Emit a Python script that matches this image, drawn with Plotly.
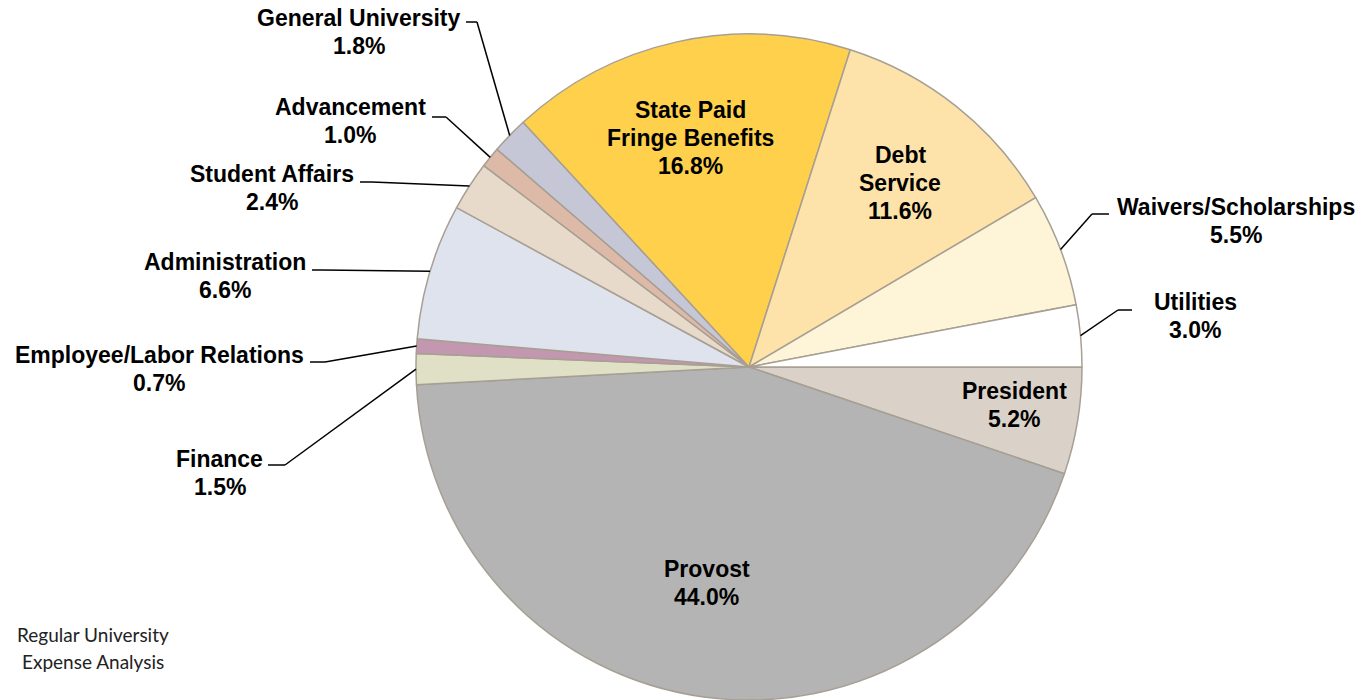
import math
import plotly.graph_objects as go

# Expense shares by unit, clockwise from 3 o'clock
categories = [
    "President", "Provost", "Finance", "Employee/Labor Relations",
    "Administration", "Student Affairs", "Advancement", "General University",
    "State Paid Fringe Benefits", "Debt Service", "Waivers/Scholarships", "Utilities",
]
shares = [5.2, 44.0, 1.5, 0.7, 6.6, 2.4, 1.0, 1.8, 16.8, 11.6, 5.5, 3.0]
slice_colors = [
    "#DAD2C9", "#B3B4B3", "#DFE0C5", "#C497B1",
    "#DFE3EE", "#E8DACA", "#DDB9A8", "#C5C7D6",
    "#FFD04B", "#FDE2AA", "#FEF4D7", "#FFFFFF",
]
# Name lines shown for each slice (the percentage goes underneath)
label_lines = {
    "President": ["President"],
    "Provost": ["Provost"],
    "Finance": ["Finance"],
    "Employee/Labor Relations": ["Employee/Labor Relations"],
    "Administration": ["Administration"],
    "Student Affairs": ["Student Affairs"],
    "Advancement": ["Advancement"],
    "General University": ["General University"],
    "State Paid Fringe Benefits": ["State Paid", "Fringe Benefits"],
    "Debt Service": ["Debt", "Service"],
    "Waivers/Scholarships": ["Waivers/Scholarships"],
    "Utilities": ["Utilities"],
}
footnote_lines = ["Regular University", "Expense Analysis"]

W, H = 1363, 700
CX, CY, R = 749, 367, 333  # pie centre and radius in pixels
LINE_GAP = 28              # label line spacing in pixels

# Label placement (pixel centre of the text block)
label_pos = {
    "President": (1014, 405),
    "Provost": (707, 583),
    "State Paid Fringe Benefits": (690, 138),
    "Debt Service": (900, 183),
    "General University": (359, 32),
    "Advancement": (350, 121),
    "Student Affairs": (272, 188),
    "Administration": (225, 276),
    "Employee/Labor Relations": (159, 369),
    "Finance": (220, 473),
    "Waivers/Scholarships": (1236, 221),
    "Utilities": (1195, 316),
}
# Leader-line stubs for outside labels: (stub start x, stub end x, y)
leader_stub = {
    "General University": (466, 477, 22),
    "Advancement": (432, 446, 117),
    "Student Affairs": (360, 372, 182),
    "Administration": (312, 322, 270),
    "Employee/Labor Relations": (310, 325, 362),
    "Finance": (268, 285, 465),
    "Waivers/Scholarships": (1109, 1092, 214),
    "Utilities": (1132, 1118, 310),
}


def px(x):
    return x / W


def py(y):
    return 1 - y / H


fig = go.Figure(
    go.Pie(
        labels=categories,
        values=shares,
        sort=False,
        direction="clockwise",
        rotation=90,
        marker=dict(colors=slice_colors, line=dict(color="#A79F93", width=1.5)),
        textinfo="none",
        hoverinfo="label+percent",
        showlegend=False,
        domain=dict(x=[px(CX - R), px(CX + R)], y=[py(CY + R), py(CY - R)]),
    )
)


def text_block(lines, x, y, font, gap):
    """One annotation per line, stacked around the block centre (x, y)."""
    n = len(lines)
    out = []
    for i, line in enumerate(lines):
        yy = y + (i - (n - 1) / 2) * gap
        out.append(dict(
            x=px(x), y=py(yy), xref="paper", yref="paper", text=line,
            showarrow=False, font=font, xanchor="center", yanchor="middle",
        ))
    return out


total = sum(shares)
font = dict(family="Liberation Sans, Arial, sans-serif", size=23, color="#000000",
            weight="bold")
annotations = []
shapes = []
cum = 0.0
for name, val in zip(categories, shares):
    mid = (cum + val / 2) / total * 2 * math.pi
    cum += val
    x_lbl, y_lbl = label_pos[name]
    annotations += text_block(label_lines[name] + [f"{val:.1f}%"],
                              x_lbl, y_lbl, font, LINE_GAP)
    if name in leader_stub:
        x0, x1, ys = leader_stub[name]
        ex = CX + R * math.cos(mid)
        ey = CY + R * math.sin(mid)
        line = dict(color="#000000", width=1.5)
        shapes.append(dict(type="line", xref="paper", yref="paper",
                           x0=px(x0), y0=py(ys), x1=px(x1), y1=py(ys), line=line))
        shapes.append(dict(type="line", xref="paper", yref="paper",
                           x0=px(x1), y0=py(ys), x1=px(ex), y1=py(ey), line=line))

annotations += text_block(
    footnote_lines, 93, 648,
    dict(family="Lato, Open Sans, sans-serif", size=19, color="#222222"), 27,
)

fig.update_layout(
    width=W, height=H,
    margin=dict(l=0, r=0, t=0, b=0),
    paper_bgcolor="#FFFFFF",
    plot_bgcolor="#FFFFFF",
    annotations=annotations,
    shapes=shapes,
)

fig.write_html("out.html")
